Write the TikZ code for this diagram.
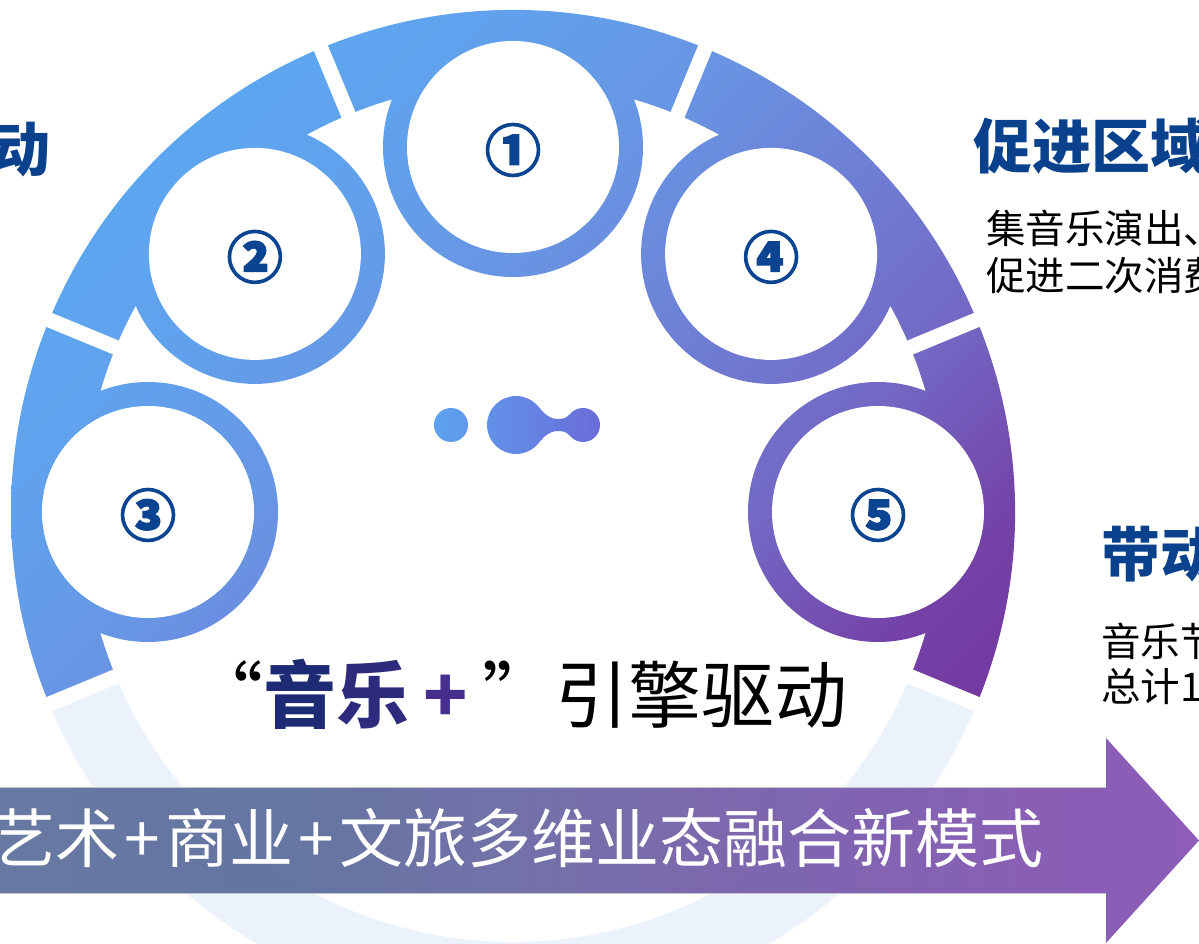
\documentclass[tikz,border=0pt]{standalone}
\usepackage{fontspec}
\setmainfont{Noto Sans CJK SC}
\newfontfamily\numfont[FakeBold=2.5]{Noto Sans CJK SC}
\usetikzlibrary{calc}
\definecolor{r0}{HTML}{5CA6F0}
\definecolor{r1}{HTML}{61A1EC}
\definecolor{r2}{HTML}{6895E3}
\definecolor{r3}{HTML}{6E7FD5}
\definecolor{r4}{HTML}{7368C4}
\definecolor{r5}{HTML}{7443A8}
\definecolor{r6}{HTML}{7236A0}
\definecolor{a0}{HTML}{5B6D9B}
\definecolor{a1}{HTML}{596B9B}
\definecolor{a2}{HTML}{6964A2}
\definecolor{a3}{HTML}{7559AA}
\definecolor{a4}{HTML}{8150B0}
\definecolor{a5}{HTML}{8450B2}
\definecolor{lightband}{HTML}{EBF2FC}
\definecolor{numblue}{HTML}{0B4490}
\definecolor{headblue}{HTML}{0A418C}
\definecolor{tnavy}{HTML}{1D2A74}
\definecolor{tmid}{HTML}{2E2A7D}
\definecolor{tpurp}{HTML}{452E8C}
\definecolor{blobA}{HTML}{5DA3EF}
\definecolor{blobB}{HTML}{6A6CD8}
\definecolor{edgegrey}{HTML}{C4C6CE}
\pgfdeclarehorizontalshading{ringshade}{100bp}{color(0bp)=(r0); color(25bp)=(r0); color(32.5bp)=(r1); color(41bp)=(r2); color(50bp)=(r3); color(59bp)=(r4); color(67.5bp)=(r5); color(75bp)=(r6); color(100bp)=(r6)}
\pgfdeclarehorizontalshading{arrowshade}{100bp}{color(0bp)=(a0); color(25bp)=(a0); color(37.5bp)=(a1); color(47.8bp)=(a2); color(58.2bp)=(a3); color(70.6bp)=(a4); color(75bp)=(a5); color(100bp)=(a5)}
\tikzset{
  numlabel/.style={text=numblue, font=\fontsize{56}{56}\numfont\bfseries, inner sep=0},
  headtext/.style={anchor=base west, inner sep=0, text=headblue, font=\fontsize{59}{59}\selectfont\bfseries},
  bodytext/.style={anchor=base west, inner sep=0, text=black, font=\fontsize{39.5}{39.5}\selectfont},
  gapline/.style={white, line width=15},
}
\begin{document}
\begin{tikzpicture}[x=1pt,y=1pt]
\useasboundingbox (0,0) rectangle (1199,943);
\clip (0,0) rectangle (1199,943);
\fill[white] (0,0) rectangle (1199,943);
\coordinate (C) at (513,431);
\coordinate (c1) at ($(C)+(90:365)$);
\coordinate (c2) at ($(C)+(135:365)$);
\coordinate (c3) at ($(C)+(180:365)$);
\coordinate (c4) at ($(C)+(45:365)$);
\coordinate (c5) at ($(C)+(0:365)$);
% light lower band
\fill[lightband] ($(C)+(202.5:502)$) arc[start angle=202.5,end angle=337.5,radius=502]
  -- ($(C)+(337.5:430)$) arc[start angle=337.5,end angle=202.5,radius=430] -- cycle;
% coloured upper band and circle rings, one shading
\begin{scope}
\clip ($(C)+(-22.5:502)$) arc[start angle=-22.5,end angle=202.5,radius=502]
  -- ($(C)+(202.5:430)$) arc[start angle=202.5,end angle=-22.5,radius=430] -- cycle
  (c1) circle[radius=130] (c2) circle[radius=130] (c3) circle[radius=130]
  (c4) circle[radius=130] (c5) circle[radius=130];
\shade[shading=ringshade,shading angle=-45] (11,-71) rectangle (1015,933);
\end{scope}
% gaps
\foreach \a in {22.5,67.5,112.5,157.5,202.5,337.5}
  \draw[gapline] ($(C)+(\a:418)$) -- ($(C)+(\a:512)$);
% white discs
\foreach \c in {c1,c2,c3,c4,c5}
  \fill[white] (\c) circle[radius=106];
% numbers
\node[numlabel] (n1) at ($(c1)+(0,-3)$) {①};
\node[numlabel] (n2) at ($(c2)+(0,-3)$) {②};
\node[numlabel] (n3) at ($(c3)+(0,-3)$) {③};
\node[numlabel] (n4) at ($(c4)+(0,-3)$) {④};
\node[numlabel] (n5) at ($(c5)+(0,-3)$) {⑤};
% blob
\coordinate (bL) at (451,518);
\coordinate (bB) at (516,518);
\coordinate (bS) at (583,518);
\shade[left color=blobA,right color=blobB]
  (bL) circle[radius=17]
  (bB) circle[radius=29]
  (bS) circle[radius=17]
  ($(bB)+(-40:29)$) to[out=50,in=180] (558,512) to[out=0,in=130] ($(bS)+(220:17)$)
  -- ($(bS)+(140:17)$) to[out=230,in=0] (558,524) to[out=180,in=-50] ($(bB)+(40:29)$) -- cycle;
% big arrow
\shade[shading=arrowshade, opacity=0.92] (-5,155) -- (1106,155) -- (1106,205) -- (1199,102.5)
  -- (1106,0) -- (1106,50) -- (-5,50) -- cycle;
\draw[edgegrey, line width=1.2] (-5,155.5) -- (1106,155.5);
\draw[edgegrey, line width=1.2] (-5,49.5) -- (1106,49.5);
\node[anchor=base west, inner sep=0, text=white, font=\fontsize{64}{64}\selectfont] (band) at (-9,81)
  {艺术\makebox[0.72em]{+}商业\makebox[0.72em]{+}文旅多维业态融合新模式};
% centre title
\node[anchor=base west, inner sep=0, font=\fontsize{73}{73}\selectfont] (title) at (190,221)
  {\makebox[1em][r]{“}\textcolor{tnavy}{\bfseries 音}\textcolor{tmid}{\bfseries 乐}\makebox[1em]{\textcolor{tpurp}{\bfseries +}}\makebox[1em][l]{”}引擎驱动};
% side texts
\node[headtext] (lefthead) at (-9,771) {动};
\node[headtext] (righthead) at (973,774) {促进区域};
\node[bodytext] (rb1) at (986,699.5) {集音乐演出、};
\node[bodytext] (rb2) at (986,652) {促进二次消费};
\node[headtext] (lowhead) at (1101,366) {带动};
\node[bodytext] (lb1) at (1101,287) {音乐节};
\node[bodytext] (lb2) at (1101,241) {总计1};
\end{tikzpicture}
\end{document}
